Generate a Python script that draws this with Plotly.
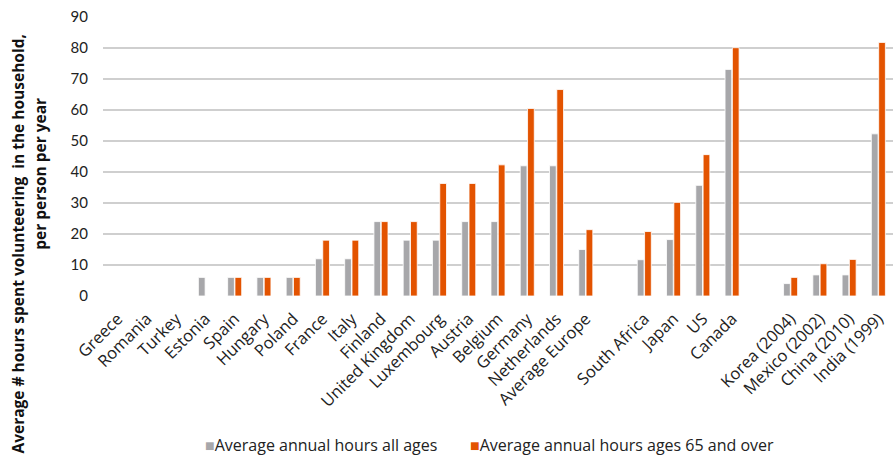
import plotly.graph_objects as go

# Countries, with blank slots separating the three regional groups
categories = [
    "Greece", "Romania", "Turkey", "Estonia", "Spain", "Hungary", "Poland",
    "France", "Italy", "Finland", "United Kingdom", "Luxembourg", "Austria",
    "Belgium", "Germany", "Netherlands", "Average Europe", " ",
    "South Africa", "Japan", "US", "Canada", "  ",
    "Korea (2004)", "Mexico (2002)", "China (2010)", "India (1999)",
]

hours_all_ages = [
    None, None, None, 6, 6, 6, 6,
    12, 12, 24, 18, 18, 24,
    24, 42, 42, 15, None,
    11.7, 18.2, 35.7, 73.1, None,
    4, 6.8, 6.8, 52.3,
]

hours_65_plus = [
    None, None, None, None, 6, 6, 6,
    18, 18, 24, 24, 36.3, 36.3,
    42.3, 60.5, 66.6, 21.4, None,
    20.8, 30.2, 45.6, 80.1, None,
    6, 10.4, 11.8, 81.8,
]

y_ticks = [0, 10, 20, 30, 40, 50, 60, 70, 80, 90]

series_names = ["Average annual hours all ages", "Average annual hours ages 65 and over"]

GREY = "#a7a7aa"
ORANGE = "#e35300"
FONT = "Open Sans"
TEXT = "#222222"

fig = go.Figure()
fig.add_trace(go.Bar(
    x=categories, y=hours_all_ages, name=series_names[0],
    marker=dict(color=GREY, line=dict(color="white", width=0.8)),
))
fig.add_trace(go.Bar(
    x=categories, y=hours_65_plus, name=series_names[1],
    marker=dict(color=ORANGE, line=dict(color="white", width=0.8)),
))

fig.update_layout(
    width=893, height=458,
    margin=dict(l=103, r=0, t=17, b=162),
    paper_bgcolor="white", plot_bgcolor="white",
    barmode="group", bargap=0.5, bargroupgap=0.08,
    font=dict(family=FONT, color=TEXT, size=14),
    showlegend=False,
    xaxis=dict(
        type="category", categoryorder="array", categoryarray=categories,
        tickangle=-45, tickfont=dict(family=FONT, size=16.5, color=TEXT),
        showgrid=False, zeroline=False, showline=False,
        ticks="", ticklabelstandoff=9,
    ),
    yaxis=dict(
        range=[0, 90], tickvals=y_ticks,
        tickfont=dict(family="Lato", size=15, color=TEXT),
        showgrid=True, gridcolor="#cfcfcf", gridwidth=1.5,
        zeroline=False, showline=False, ticks="", ticklabelstandoff=14,
    ),
)

# Compact legend row beneath the category labels
legend_items = [(series_names[0], GREY, 204), (series_names[1], ORANGE, 469)]
for name, color, left_px in legend_items:
    fig.add_annotation(
        text=f'<span style="color:{color}">■</span>{name}',
        xref="paper", yref="paper",
        x=(left_px - 103) / 790, y=(296 - 445) / 279,
        xanchor="left", yanchor="middle", showarrow=False, borderpad=0,
        font=dict(family=FONT, size=16, color=TEXT),
    )

# Two-line vertical axis title
fig.add_annotation(
    text="<b>Average # hours spent volunteering  in the household,</b>",
    xref="paper", yref="paper", x=-0.107, y=(296 - 244) / 279,
    xanchor="center", yanchor="middle", textangle=-90, showarrow=False,
    font=dict(family="Open Sans", size=15.5, color="#111111"),
)
fig.add_annotation(
    text="<b>per person per year</b>",
    xref="paper", yref="paper", x=-0.080, y=(296 - 174) / 279,
    xanchor="center", yanchor="middle", textangle=-90, showarrow=False,
    font=dict(family="Open Sans", size=15.5, color="#111111"),
)

fig.write_html("out.html")
